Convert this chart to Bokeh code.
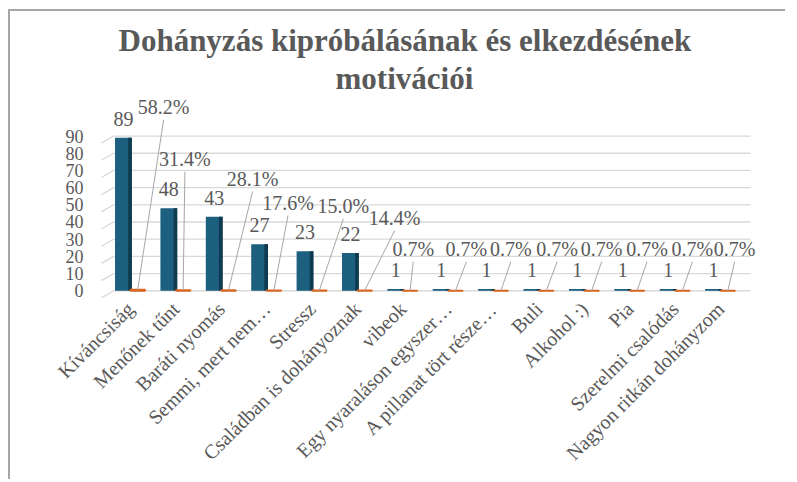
import math
from bokeh.plotting import figure
from bokeh.models import Range1d, FixedTicker, Title
from bokeh.core.properties import value
from bokeh.embed import file_html
from bokeh.resources import INLINE

# ---------------- data ----------------
categories = [
    "Kíváncsiság", "Menőnek tűnt", "Baráti nyomás", "Semmi, mert nem…",
    "Stressz", "Családban is dohányoznak", "vibeok", "Egy nyaraláson egyszer…",
    "A pillanat tört része…", "Buli", "Alkohol :)", "Pia",
    "Szerelmi csalódás", "Nagyon ritkán dohányzom",
]
counts = [89, 48, 43, 27, 23, 22, 1, 1, 1, 1, 1, 1, 1, 1]
shares = [0.582, 0.314, 0.281, 0.176, 0.150, 0.144,
          0.007, 0.007, 0.007, 0.007, 0.007, 0.007, 0.007, 0.007]
y_ticks = [0, 10, 20, 30, 40, 50, 60, 70, 80, 90]
title_lines = ["Dohányzás kipróbálásának és elkezdésének", "motivációi"]

# ------------- layout (label placement as in the original) -------------
pct_dx = [0.57, 0.04, 0.53, 0.31, 0.53, 0.66, 0.07, 0.24, 0.22, 0.24, 0.22, 0.22, 0.22, 0.15]
pct_y = [107.0, 76.8, 65.2, 51.2, 49.4, 42.5, 24.4, 24.4, 24.4, 24.4, 24.4, 24.4, 24.4, 24.4]
title_offsets = [18, 235]
title_standoffs = [0, 2]

GREY = "#595959"
FONT = "Liberation Serif"
BLUE = "#1c5f7f"
BLUE_SIDE = "#103a4f"
ORANGE = "#d9651f"

n = len(categories)
xs = list(range(n))
blue_w = 0.37
blue_off = -0.155
orange_off = 0.16

p = figure(width=777, height=470,
           x_range=Range1d(-0.66, 13.99), y_range=Range1d(-4.5, 113),
           output_backend="svg", toolbar_location=None,
           min_border_left=90, min_border_right=22,
           min_border_top=85, min_border_bottom=183)
p.styles = {"margin-left": "8px", "margin-top": "9px",
            "border-left": "2px solid #a6a6a6", "border-top": "2px solid #a6a6a6"}
p.outline_line_color = None
p.xgrid.visible = False
p.ygrid.visible = False
p.background_fill_color = "white"
p.border_fill_color = "white"

# gridlines of the 3D back wall and the slanted left wall edges
p.segment(x0=[-0.37] * len(y_ticks), y0=y_ticks, x1=[13.66] * len(y_ticks), y1=y_ticks,
          line_color="#d9d9d9", line_width=1.3)
p.segment(x0=[-0.64] * len(y_ticks), y0=[v - 4.1 for v in y_ticks],
          x1=[-0.37] * len(y_ticks), y1=y_ticks, line_color="#d9d9d9", line_width=1.3)

# bars
bx = [x + blue_off for x in xs]
ox = [x + orange_off for x in xs]
p.vbar(x=bx, top=counts, bottom=0, width=blue_w, fill_color=BLUE, line_color=None)
p.vbar(x=[b + blue_w / 2 - 0.04 for b in bx], top=counts, bottom=0, width=0.08,
       fill_color=BLUE_SIDE, line_color=None)
p.vbar(x=ox, top=shares, bottom=0, width=0.32, fill_color=ORANGE, line_color=ORANGE,
       line_width=2)

# value labels of counts
p.text(x=bx, y=[c + 11 for c in counts], text=[str(c) for c in counts],
       text_font=value(FONT), text_font_size="20px", text_color=GREY,
       text_align="center", text_baseline="middle")

# percentage labels with leader lines
px_ = [o + d for o, d in zip(ox, pct_dx)]
p.segment(x0=px_, y0=[y - 7.5 for y in pct_y], x1=ox, y1=shares,
          line_color="#a6a6a6", line_width=1)
p.text(x=px_, y=pct_y, text=[f"{s * 100:.1f}%" for s in shares],
       text_font=value(FONT), text_font_size="20px", text_color=GREY,
       text_align="center", text_baseline="middle")

# axes
p.yaxis.ticker = FixedTicker(ticks=y_ticks)
p.yaxis.axis_line_color = None
p.yaxis.major_tick_line_color = None
p.yaxis.minor_tick_line_color = None
p.yaxis.major_tick_out = 0
p.yaxis.major_tick_in = 0
p.yaxis.major_label_standoff = 17
p.yaxis.major_label_text_font = FONT
p.yaxis.major_label_text_font_size = "18px"
p.yaxis.major_label_text_color = GREY

p.xaxis.ticker = FixedTicker(ticks=xs)
p.xaxis.major_label_overrides = {i: c for i, c in enumerate(categories)}
p.xaxis.major_label_orientation = math.pi / 4
p.xaxis.axis_line_color = None
p.xaxis.major_tick_line_color = None
p.xaxis.minor_tick_line_color = None
p.xaxis.major_tick_out = 0
p.xaxis.major_tick_in = 0
p.xaxis.major_label_standoff = 7
p.xaxis.major_label_text_font = FONT
p.xaxis.major_label_text_font_size = "20px"
p.xaxis.major_label_text_color = GREY

# title (two lines; the line added later sits higher)
for line, off, so in reversed(list(zip(title_lines, title_offsets, title_standoffs))):
    p.add_layout(Title(text=line, align="left", offset=off, text_font=FONT,
                       text_font_size="31px", text_font_style="bold",
                       text_color=GREY, standoff=so), "above")

open("out.html", "w").write(file_html(p, INLINE))
